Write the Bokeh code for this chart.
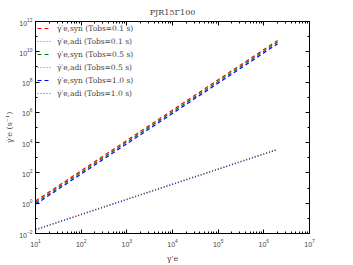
from bokeh.plotting import figure
from bokeh.models import LogAxis, FixedTicker, LogTicker, Legend, LegendItem, Range1d, CustomJSTickFormatter
from bokeh.embed import file_html
from bokeh.resources import INLINE

# Data (log-log straight lines)
gamma = [10, 1e2, 1e3, 1e4, 1e5, 1e6, 2e6]
syn_01 = [1.4, 1.4e2, 1.4e4, 1.4e6, 1.4e8, 1.4e10, 5.6e10]
adi_01 = [0.019, 0.19, 1.9, 19, 190, 1900, 3800]
syn_05 = [1.1, 1.1e2, 1.1e4, 1.1e6, 1.1e8, 1.1e10, 4.4e10]
adi_05 = [0.018, 0.18, 1.8, 18, 180, 1800, 3600]
syn_10 = [0.85, 85, 8.5e3, 8.5e5, 8.5e7, 8.5e9, 3.4e10]
adi_10 = [0.017, 0.17, 1.7, 17, 170, 1700, 3400]

labels = [
    "γ̇′e,syn (Tobs=0.1 s)",
    "γ̇′e,adi (Tobs=0.1 s)",
    "γ̇′e,syn (Tobs=0.5 s)",
    "γ̇′e,adi (Tobs=0.5 s)",
    "γ̇′e,syn (Tobs=1.0 s)",
    "γ̇′e,adi (Tobs=1.0 s)",
]
series = [syn_01, adi_01, syn_05, adi_05, syn_10, adi_10]
colors = ["#ff0000", "#ff0000", "#008000", "#008000", "#0000ff", "#0000ff"]
dashes = ["4 3", "1 2", "4 3", "1 2", "4 3", "1 2"]

y_major = [1e-2, 1e0, 1e2, 1e4, 1e6, 1e8, 1e10, 1e12]
y_minor = [1e-1, 1e1, 1e3, 1e5, 1e7, 1e9, 1e11]

SERIF = "DejaVu Serif"

p = figure(x_axis_type="log", y_axis_type="log",
           x_range=Range1d(10, 1e7), y_range=Range1d(1e-2, 1e12),
           output_backend="svg", toolbar_location=None,
           frame_width=274, frame_height=212,
           min_border_left=35, min_border_top=18, min_border_right=10, min_border_bottom=3,
           title="PJR15Γ100")
p.title.align = "center"
p.title.text_font = SERIF
p.title.text_font_style = "normal"
p.title.text_font_size = "8px"
p.title.offset = 0
p.xgrid.visible = False
p.ygrid.visible = False
p.outline_line_color = "black"
p.outline_line_width = 1

items = []
for lab, ys, c, d in zip(labels, series, colors, dashes):
    solid = d == "4 3"
    r = p.line(gamma, ys, line_color=c, line_dash=d, line_width=1.2 if solid else 1.1,
               line_alpha=1.0 if solid else 0.7)
    items.append(LegendItem(label=lab, renderers=[r]))

p.yaxis.ticker = FixedTicker(ticks=y_major, minor_ticks=y_minor)
p.xaxis.ticker = LogTicker(num_minor_ticks=10)

for ax in [p.xaxis[0], p.yaxis[0]]:
    ax.major_tick_in = 4
    ax.major_tick_out = 0
    ax.minor_tick_in = 2
    ax.minor_tick_out = 0
    ax.major_label_text_font_size = "7px"
    ax.axis_label_text_font = SERIF
    ax.axis_label_text_font_style = "normal"
    ax.axis_label_text_font_size = "8px"
    ax.axis_line_color = "black"

p.xaxis.axis_label = "γ′e"
p.yaxis.axis_label = "γ̇′e (s⁻¹)"
p.xaxis.axis_label_standoff = 4
p.yaxis.axis_label_standoff = 2
p.xaxis.major_label_standoff = 5
p.yaxis.major_label_standoff = 3

blank = CustomJSTickFormatter(code="return '';")
top = LogAxis(ticker=LogTicker(num_minor_ticks=10), formatter=blank,
              major_tick_in=4, major_tick_out=0, minor_tick_in=2, minor_tick_out=0,
              major_label_standoff=0)
right = LogAxis(ticker=FixedTicker(ticks=y_major, minor_ticks=y_minor), formatter=blank,
                major_tick_in=4, major_tick_out=0, minor_tick_in=2, minor_tick_out=0,
                major_label_standoff=0)
p.add_layout(top, "above")
p.add_layout(right, "right")

legend = Legend(items=items, location="top_left")
legend.label_text_font = SERIF
legend.label_text_font_size = "7.5px"
legend.border_line_color = None
legend.background_fill_alpha = 0
legend.glyph_width = 14
legend.glyph_height = 10
legend.label_height = 10
legend.spacing = 3
legend.padding = 5
legend.margin = 2
legend.label_standoff = 6
p.add_layout(legend)

open("out.html", "w").write(file_html(p, INLINE))
